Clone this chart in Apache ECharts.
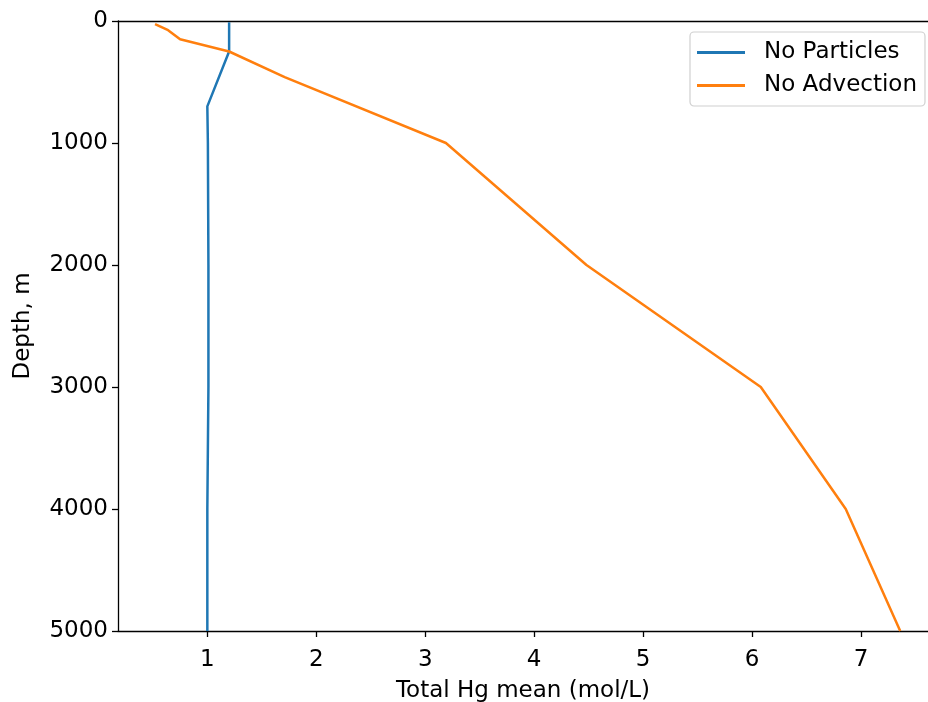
<!DOCTYPE html>
<html>
<head>
<meta charset="utf-8">
<script src="https://cdn.jsdelivr.net/npm/echarts@6/dist/echarts.min.js"></script>
<style>
  html, body { margin: 0; padding: 0; background: #fff; }
  #chart { width: 928px; height: 702px; }
</style>
</head>
<body>
<div id="chart"></div>
<script>
// Depth profiles of total Hg for two model runs
const seriesNames = ['No Particles', 'No Advection'];

const noParticlesDepth = [10, 250, 700, 1000, 2000, 3000, 4000, 5000];
const noParticlesHg    = [1.20, 1.20, 1.00, 1.005, 1.01, 1.01, 1.00, 1.00];

const noAdvectionDepth = [25, 75, 150, 250, 460, 1000, 2000, 3000, 4000, 5000];
const noAdvectionHg    = [0.52, 0.64, 0.75, 1.20, 1.71, 3.19, 4.48, 6.08, 6.86, 7.36];

const depthTicks = [0, 1000, 2000, 3000, 4000, 5000];
const hgTicks = [1, 2, 3, 4, 5, 6, 7];

const font = 'DejaVu Sans';
const fontSize = 23;
const pairs = (xs, ys) => xs.map((x, i) => [x, ys[i]]);

const chart = echarts.init(document.getElementById('chart'), null, { renderer: 'canvas' });

const axisLineStyle = { color: '#000', width: 1.3 };

chart.setOption({
  animation: false,
  backgroundColor: '#fff',
  grid: { left: 118, top: 21, right: 0, bottom: 71, containLabel: false, outerBoundsMode: 'none' },
  legend: {
    orient: 'vertical',
    left: 690,
    top: 32,
    padding: [9, 8, 9, 7],
    itemGap: 10,
    itemWidth: 48,
    itemHeight: 3,
    icon: 'rect',
    backgroundColor: '#fff',
    borderColor: '#d0d0d0',
    borderWidth: 1.2,
    borderRadius: 4,
    textStyle: { fontFamily: font, fontSize: fontSize, color: '#000', padding: [0, 0, 0, 14] },
    data: seriesNames
  },
  xAxis: [
    {
      type: 'value',
      position: 'bottom',
      min: 0.18,
      max: 7.615,
      name: 'Total Hg mean (mol/L)',
      nameLocation: 'middle',
      nameGap: 49,
      nameTextStyle: { fontFamily: font, fontSize: fontSize, color: '#000' },
      axisLine: { show: true, onZero: false, lineStyle: axisLineStyle },
      axisTick: { show: true, length: 6, inside: false, lineStyle: axisLineStyle,
                  customValues: hgTicks },
      axisLabel: { fontFamily: font, fontSize: fontSize, color: '#000', margin: 18,
                   customValues: hgTicks },
      splitLine: { show: false }
    },
    {
      type: 'value',
      position: 'top',
      min: 0.18,
      max: 7.615,
      axisLine: { show: true, onZero: false, lineStyle: axisLineStyle },
      axisTick: { show: false },
      axisLabel: { show: false },
      splitLine: { show: false }
    }
  ],
  yAxis: {
    type: 'value',
    inverse: true,
    min: 0,
    max: 5000,
    interval: 1000,
    name: 'Depth, m',
    nameLocation: 'middle',
    nameGap: 83,
    nameRotate: 90,
    nameTextStyle: { fontFamily: font, fontSize: fontSize, color: '#000' },
    axisLine: { show: true, onZero: false, lineStyle: axisLineStyle },
    axisTick: { show: true, length: 6, inside: false, lineStyle: axisLineStyle },
    axisLabel: { fontFamily: font, fontSize: fontSize, color: '#000', margin: 10,
                 padding: [10, 0, 0, 0],
                 customValues: depthTicks, formatter: v => String(v) },
    splitLine: { show: false }
  },
  series: [
    {
      name: seriesNames[0],
      type: 'line',
      data: pairs(noParticlesHg, noParticlesDepth),
      showSymbol: false,
      symbol: 'none',
      color: '#1f77b4',
      lineStyle: { width: 2.5, color: '#1f77b4' }
    },
    {
      name: seriesNames[1],
      type: 'line',
      data: pairs(noAdvectionHg, noAdvectionDepth),
      showSymbol: false,
      symbol: 'none',
      color: '#ff7f0e',
      lineStyle: { width: 2.5, color: '#ff7f0e' }
    }
  ]
});
</script>
</body>
</html>
